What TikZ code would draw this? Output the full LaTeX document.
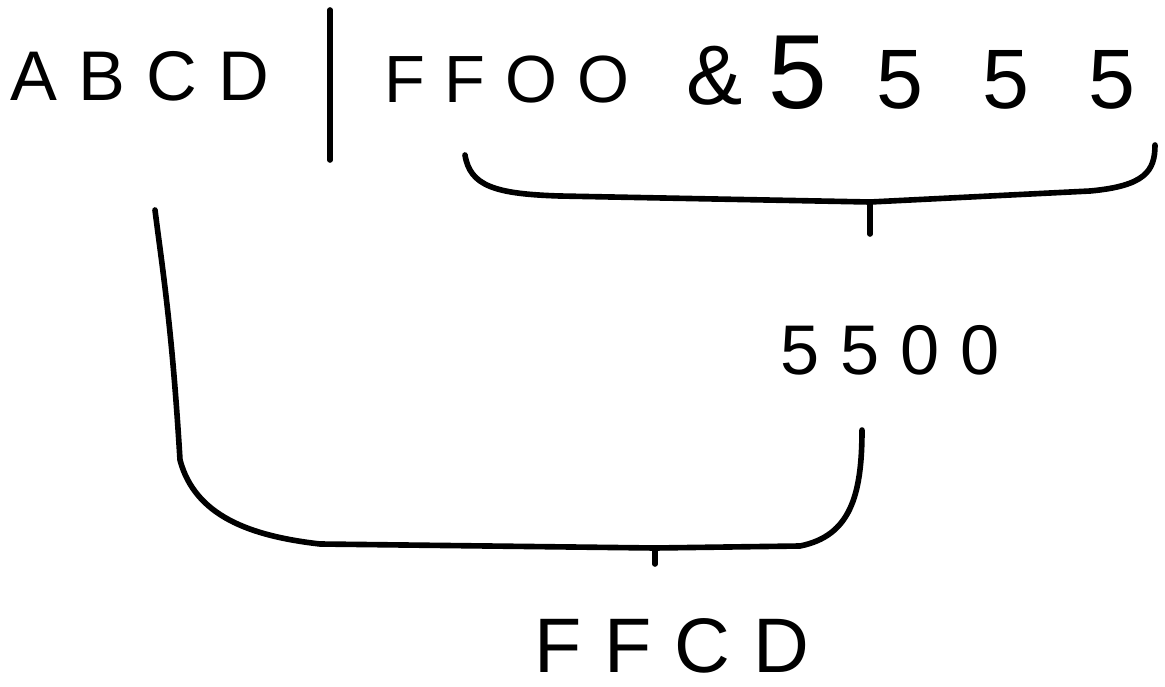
\documentclass[tikz,border=0pt]{standalone}
\usepackage{fontspec}
\newfontfamily\handfont[LetterSpace=30]{Liberation Sans}
\newfontfamily\widefont[LetterSpace=70]{Liberation Sans}
\tikzset{
  hex/.style={font=\handfont\fontsize{20}{24}\selectfont, inner sep=0pt},
  stroke/.style={line width=1.6pt, line cap=round, line join=round}
}
\begin{document}
\begin{tikzpicture}
\useasboundingbox (0,0) rectangle (11.65,6.86);
% top row
\node[hex] (abcd) at (1.40,6.10) {ABCD};
\coordinate (bartop) at (3.30,6.76);
\coordinate (barbot) at (3.30,5.26);
\node[hex, font=\handfont\fontsize{19}{24}\selectfont] (ffoo) at (5.07,6.06) {FFOO};
\node[hex, font=\handfont\fontsize{24}{28}\selectfont] (amp) at (7.15,6.10) {\&};
\node[hex, font=\widefont\fontsize{24}{28}\selectfont] (fives) at (9.52,6.13) {{\fontsize{30}{34}\selectfont 5}\kern14pt 555};
\draw[stroke] (bartop) -- (barbot);
% first brace
\coordinate (b1l) at (4.65,5.31);
\coordinate (b1r) at (11.55,5.41);
\coordinate (b1m) at (8.70,4.84);
\coordinate (b1tip) at (8.70,4.52);
\draw[stroke] (b1l) .. controls (4.70,5.00) and (4.95,4.92) .. (5.60,4.90)
  -- (b1m) -- (10.90,4.95) .. controls (11.45,5.00) and (11.55,5.15) .. (b1r);
\draw[stroke] (b1m) -- (b1tip);
\node[hex] (mid) at (8.90,3.36) {5500};
% second brace
\coordinate (b2l) at (1.55,4.76);
\coordinate (b2r) at (8.62,2.56);
\coordinate (b2m) at (6.55,1.38);
\coordinate (b2tip) at (6.55,1.22);
\draw[stroke] (b2l) .. controls (1.62,4.20) and (1.72,3.60) .. (1.80,2.26)
  .. controls (1.95,1.70) and (2.50,1.50) .. (3.20,1.42)
  -- (b2m) -- (8.00,1.40) .. controls (8.50,1.50) and (8.62,1.90) .. (b2r);
\draw[stroke] (b2m) -- (b2tip);
\node[hex, font=\handfont\fontsize{22}{26}\selectfont] (ffcd) at (6.72,0.40) {FFCD};
\end{tikzpicture}
\end{document}
